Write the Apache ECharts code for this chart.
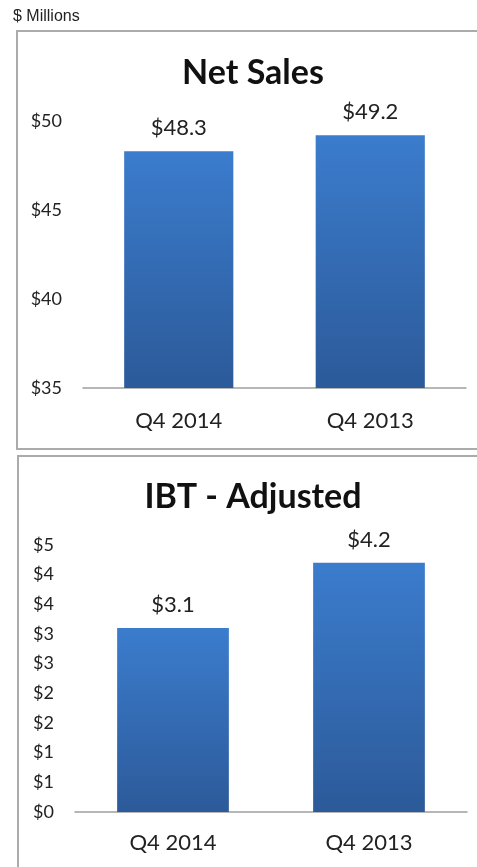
<!DOCTYPE html>
<html>
<head>
<meta charset="utf-8">
<script src="https://cdn.jsdelivr.net/npm/echarts@6/dist/echarts.min.js"></script>
<style>
html,body{margin:0;padding:0;background:#fff;}
#main{width:477px;height:867px;}
</style>
</head>
<body>
<div id="main"></div>
<script>
var categories = ['Q4 2014', 'Q4 2013'];
var netSales = [48.3, 49.2];
var ibtAdjusted = [3.1, 4.2];
var titles = ['Net Sales', 'IBT - Adjusted'];

var chart = echarts.init(document.getElementById('main'));

var barColor = new echarts.graphic.LinearGradient(0, 0, 0, 1, [
  { offset: 0, color: '#3b7ccd' },
  { offset: 1, color: '#2c5a99' }
]);

var font = 'Lato, "Open Sans", sans-serif';

function xAxisFor(idx, margin) {
  return {
    type: 'category',
    gridIndex: idx,
    data: categories,
    axisTick: { show: false },
    axisLine: { lineStyle: { color: '#a0a0a0', width: 1.5 } },
    axisLabel: { color: '#222', fontSize: 22, fontFamily: font, margin: margin }
  };
}

function yAxisFor(idx, min, max, interval, fmt) {
  return {
    type: 'value',
    gridIndex: idx,
    min: min,
    max: max,
    interval: interval,
    splitLine: { show: false },
    axisLine: { show: false },
    axisTick: { show: false },
    axisLabel: { color: '#222', fontSize: 18, fontFamily: font, margin: 21, formatter: fmt }
  };
}

function barSeries(idx, data, fmt) {
  return {
    type: 'bar',
    xAxisIndex: idx,
    yAxisIndex: idx,
    data: data,
    barWidth: '57%',
    itemStyle: { color: barColor },
    label: {
      show: true,
      position: 'top',
      distance: 12,
      color: '#222',
      fontSize: 22,
      fontFamily: font,
      formatter: fmt
    }
  };
}

var option = {
  animation: false,
  title: [
    {
      text: titles[0], left: 253, top: 56, textAlign: 'center', padding: 0,
      textStyle: { fontSize: 34, fontWeight: 'bold', color: '#111', fontFamily: font }
    },
    {
      text: titles[1], left: 253, top: 480, textAlign: 'center', padding: 0,
      textStyle: { fontSize: 34, fontWeight: 'bold', color: '#111', fontFamily: font }
    }
  ],
  graphic: [
    {
      type: 'text', left: 13, top: 9,
      style: { text: '$ Millions', fontSize: 16, fontFamily: '"Liberation Sans", Arial, sans-serif', fill: '#222' }
    },
    {
      type: 'rect', shape: { x: 17, y: 31, width: 480, height: 418 },
      style: { fill: 'none', stroke: '#ababab', lineWidth: 2 }, z: -1
    },
    {
      type: 'rect', shape: { x: 18, y: 456, width: 480, height: 430 },
      style: { fill: 'none', stroke: '#ababab', lineWidth: 2 }, z: -1
    }
  ],
  grid: [
    { left: 83, right: 11, top: 121, bottom: 479 },
    { left: 75, right: 10, top: 545, bottom: 55 }
  ],
  xAxis: [xAxisFor(0, 22), xAxisFor(1, 20)],
  yAxis: [
    yAxisFor(0, 35, 50, 5, function (v) { return '$' + v; }),
    yAxisFor(1, 0, 4.5, 0.5, function (v) { return '$' + Math.round(v); })
  ],
  series: [
    barSeries(0, netSales, function (p) { return '$' + p.value.toFixed(1); }),
    barSeries(1, ibtAdjusted, function (p) { return '$' + p.value.toFixed(1); })
  ]
};

chart.setOption(option);
</script>
</body>
</html>
